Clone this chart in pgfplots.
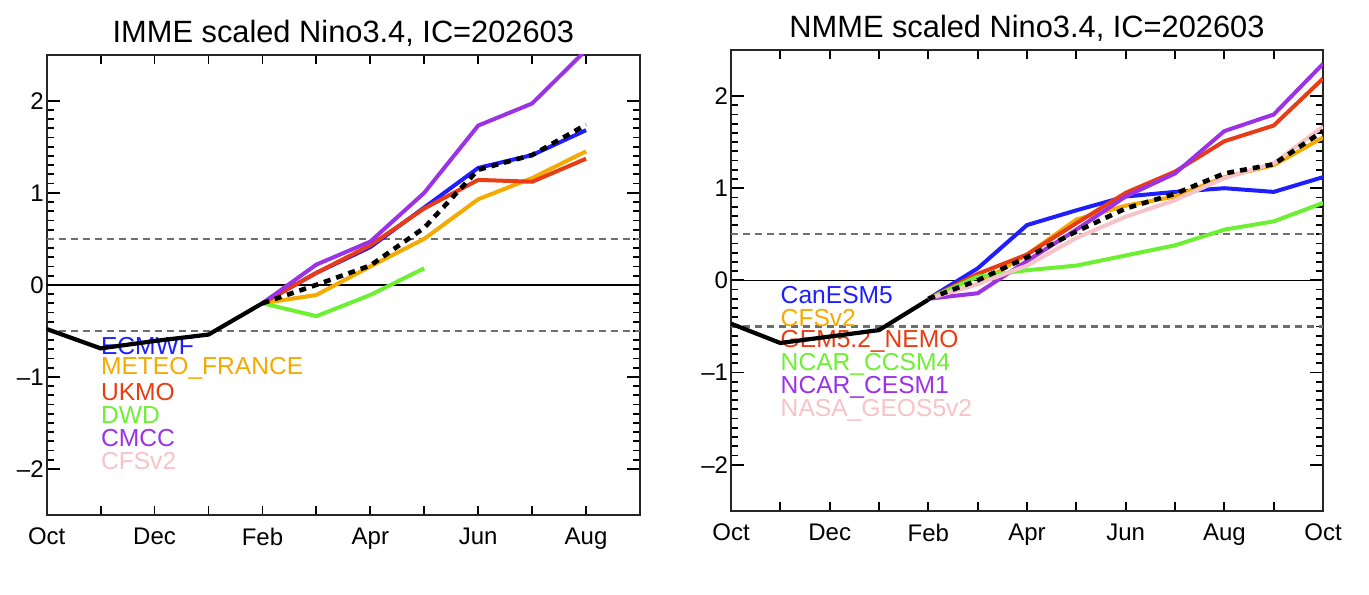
\documentclass[border=0pt]{standalone}
\usepackage{pgfplots}
\pgfplotsset{compat=1.18}
\usepackage{fontspec}
\setmainfont{Liberation Sans}
\definecolor{cblue}{RGB}{30,30,255}
\definecolor{corange}{RGB}{245,170,0}
\definecolor{cred}{RGB}{232,60,20}
\definecolor{cgreen}{RGB}{110,240,50}
\definecolor{cpurple}{RGB}{155,50,230}
\definecolor{cpink}{RGB}{245,195,200}
\definecolor{cgray}{RGB}{110,110,110}
\pgfplotsset{
  ninostyle/.style={
    scale only axis, anchor=south west,
    ymin=-2.5, ymax=2.5,
    ytick={-2,-1,0,1,2},
    yticklabels={–2,–1,0,1,2},
    minor y tick num=9,
    tick align=inside,
    axis line style={line width=1pt, black!85},
    every tick/.style={black, line width=0.9pt},
    major tick length=6.5pt,
    minor tick length=3.5pt,
    xtick style={/pgfplots/major tick length=4.5pt, black, line width=0.9pt},
    tick label style={font=\fontsize{12}{14}\selectfont},
    xticklabel style={yshift=-3pt},
    yticklabel style={xshift=2pt},
    /pgf/number format/assume math mode=true,
    title style={font=\fontsize{15.4}{18}\selectfont, yshift=-5.5pt},
    clip=true,
  },
  obs/.style={black, line width=2.1pt},
  mme/.style={black, line width=2.3pt, dash pattern=on 3.5pt off 3pt},
  mod/.style={line width=2pt},
  thr/.style={cgray, line width=1.2pt, dash pattern=on 3.5pt off 2.5pt},
}
\begin{document}
\begin{tikzpicture}
\useasboundingbox (0,0) rectangle (684.5pt,297pt);
% ---------------- Left panel ----------------
\begin{axis}[ninostyle,
  at={(23.35pt,39.5pt)}, width=296.65pt, height=230.15pt,
  xmin=0, xmax=11,
  xtick={0,...,11},
  xticklabels={Oct,,Dec,,Feb,,Apr,,Jun,,Aug,},
  title={IMME scaled Nino3.4, IC=202603},
]
\addplot[thr] coordinates {(0,0.5) (11,0.5)};
\addplot[thr] coordinates {(0,-0.5) (11,-0.5)};
\addplot[black, line width=0.7pt] coordinates {(0,0) (11,0)};
\node[anchor=west, inner sep=0pt, text=cblue, font=\fontsize{12.3}{14}\selectfont] at (axis cs:1,-0.66) {ECMWF};
\node[anchor=west, inner sep=0pt, text=corange, font=\fontsize{12.3}{14}\selectfont] at (axis cs:1,-0.91) {METEO\_FRANCE};
\node[anchor=west, inner sep=0pt, text=cred, font=\fontsize{12.3}{14}\selectfont] at (axis cs:1,-1.16) {UKMO};
\node[anchor=west, inner sep=0pt, text=cgreen, font=\fontsize{12.3}{14}\selectfont] at (axis cs:1,-1.41) {DWD};
\node[anchor=west, inner sep=0pt, text=cpurple, font=\fontsize{12.3}{14}\selectfont] at (axis cs:1,-1.66) {CMCC};
\node[anchor=west, inner sep=0pt, text=cpink, font=\fontsize{12.3}{14}\selectfont] at (axis cs:1,-1.91) {CFSv2};
% ECMWF
\addplot[mod, cblue] coordinates {(4,-0.20) (5,0.13) (6,0.41) (7,0.84) (8,1.27) (9,1.41) (10,1.68)};
% METEO_FRANCE
\addplot[mod, corange] coordinates {(4,-0.20) (5,-0.11) (6,0.20) (7,0.50) (8,0.93) (9,1.16) (10,1.45)};
% UKMO
\addplot[mod, cred] coordinates {(4,-0.20) (5,0.13) (6,0.43) (7,0.83) (8,1.14) (9,1.12) (10,1.37)};
% DWD
\addplot[mod, cgreen] coordinates {(4,-0.20) (5,-0.34) (6,-0.11) (7,0.18)};
% CMCC
\addplot[mod, cpurple] coordinates {(4,-0.20) (5,0.22) (6,0.47) (7,1.00) (8,1.73) (9,1.97) (10,2.55)};
% MME
\addplot[mme] coordinates {(4,-0.20) (5,0.00) (6,0.21) (7,0.62) (8,1.25) (9,1.41) (10,1.74)};
% observed
\addplot[obs] coordinates {(0,-0.48) (1,-0.69) (2,-0.61) (3,-0.54) (4,-0.20)};
\end{axis}
% ---------------- Right panel ----------------
\begin{axis}[ninostyle,
  at={(365.5pt,41.65pt)}, width=296pt, height=230.35pt,
  xmin=0, xmax=12,
  xtick={0,...,12},
  xticklabels={Oct,,Dec,,Feb,,Apr,,Jun,,Aug,,Oct},
  title={NMME scaled Nino3.4, IC=202603},
]
\addplot[thr] coordinates {(0,0.5) (12,0.5)};
\addplot[thr] coordinates {(0,-0.5) (12,-0.5)};
\addplot[black, line width=0.7pt] coordinates {(0,0) (12,0)};
\node[anchor=west, inner sep=0pt, text=cblue, font=\fontsize{12.3}{14}\selectfont] at (axis cs:1,-0.16) {CanESM5};
\node[anchor=west, inner sep=0pt, text=corange, font=\fontsize{12.3}{14}\selectfont] at (axis cs:1,-0.41) {CFSv2};
\node[anchor=west, inner sep=0pt, text=cred, font=\fontsize{12.3}{14}\selectfont] at (axis cs:1,-0.66) {GEM5.2\_NEMO};
\node[anchor=west, inner sep=0pt, text=cgreen, font=\fontsize{12.3}{14}\selectfont] at (axis cs:1,-0.91) {NCAR\_CCSM4};
\node[anchor=west, inner sep=0pt, text=cpurple, font=\fontsize{12.3}{14}\selectfont] at (axis cs:1,-1.16) {NCAR\_CESM1};
\node[anchor=west, inner sep=0pt, text=cpink, font=\fontsize{12.3}{14}\selectfont] at (axis cs:1,-1.41) {NASA\_GEOS5v2};
% CanESM5
\addplot[mod, cblue] coordinates {(4,-0.20) (5,0.13) (6,0.60) (7,0.76) (8,0.91) (9,0.96) (10,1.00) (11,0.96) (12,1.12)};
% CFSv2
\addplot[mod, corange] coordinates {(4,-0.20) (5,-0.04) (6,0.28) (7,0.66) (8,0.81) (9,0.91) (10,1.12) (11,1.25) (12,1.55)};
% GEM5.2_NEMO
\addplot[mod, cred] coordinates {(4,-0.20) (5,0.07) (6,0.28) (7,0.62) (8,0.95) (9,1.18) (10,1.51) (11,1.68) (12,2.19)};
% NCAR_CCSM4
\addplot[mod, cgreen] coordinates {(4,-0.20) (5,0.04) (6,0.11) (7,0.16) (8,0.27) (9,0.38) (10,0.55) (11,0.64) (12,0.84)};
% NCAR_CESM1
\addplot[mod, cpurple] coordinates {(4,-0.20) (5,-0.14) (6,0.21) (7,0.55) (8,0.91) (9,1.16) (10,1.62) (11,1.80) (12,2.35)};
% NASA_GEOS5v2
\addplot[mod, cpink] coordinates {(4,-0.20) (5,-0.04) (6,0.16) (7,0.46) (8,0.69) (9,0.87) (10,1.11) (11,1.27) (12,1.67)};
% MME
\addplot[mme] coordinates {(4,-0.20) (5,0.00) (6,0.25) (7,0.53) (8,0.78) (9,0.94) (10,1.16) (11,1.26) (12,1.62)};
% observed
\addplot[obs] coordinates {(0,-0.47) (1,-0.68) (2,-0.61) (3,-0.54) (4,-0.21)};
\end{axis}
\end{tikzpicture}
\end{document}
